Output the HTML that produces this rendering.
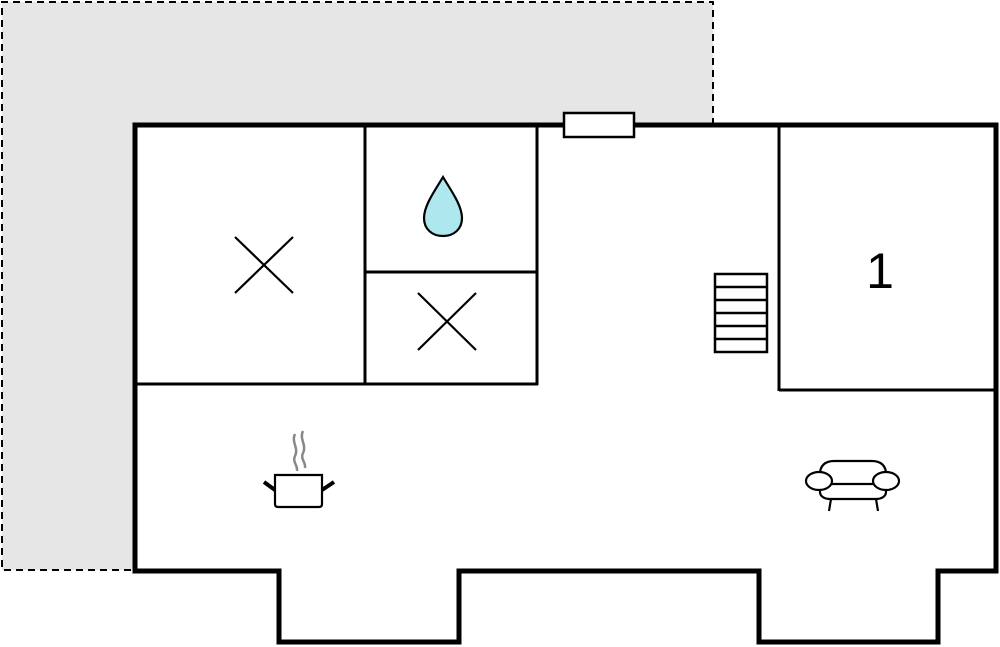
<!DOCTYPE html>
<html><head><meta charset="utf-8"><style>
html,body{margin:0;padding:0;background:#fff;}
svg{display:block;}
</style></head><body>
<svg width="1000" height="647" viewBox="0 0 1000 647" xmlns="http://www.w3.org/2000/svg">
<path d="M2,2 H713 V125 H135 V570 H2 Z" fill="#e6e6e6"/>
<path d="M713,125 V2 H2 V570 H135" fill="none" stroke="#000" stroke-width="2" stroke-dasharray="7,5"/>
<path d="M135,125 H996 V571 H938 V642 H759 V571 H459 V642 H279 V571 H135 Z" fill="#fff" stroke="#000" stroke-width="5"/>
<g stroke="#000" stroke-width="3" fill="none">
<line x1="365" y1="125" x2="365" y2="384"/>
<line x1="537" y1="125" x2="537" y2="385"/>
<line x1="135" y1="384" x2="538" y2="384"/>
<line x1="365" y1="272" x2="537" y2="272"/>
<line x1="779" y1="125" x2="779" y2="391"/>
<line x1="779" y1="390" x2="996" y2="390"/>
</g>
<rect x="564" y="113" width="70" height="24" fill="#fff" stroke="#000" stroke-width="2.5"/>
<g stroke="#000" stroke-width="2.5" fill="#fff">
<rect x="715" y="274" width="52" height="78"/>
<line x1="715" y1="287" x2="767" y2="287"/>
<line x1="715" y1="300" x2="767" y2="300"/>
<line x1="715" y1="313" x2="767" y2="313"/>
<line x1="715" y1="326" x2="767" y2="326"/>
<line x1="715" y1="339" x2="767" y2="339"/>
</g>
<g stroke="#000" stroke-width="2.2">
<line x1="235" y1="237" x2="293" y2="293"/>
<line x1="293" y1="237" x2="235" y2="293"/>
<line x1="418" y1="293" x2="476" y2="350"/>
<line x1="476" y1="293" x2="418" y2="350"/>
</g>
<path d="M443,177 C450,189 462,205 462,218 C462,229 454,236 443,236 C432,236 424,229 424,218 C424,205 436,189 443,177 Z" fill="#aee8ee" stroke="#000" stroke-width="2.2"/>
<text x="880" y="288" font-family="Liberation Sans, sans-serif" font-size="50" text-anchor="middle">1</text>
<g fill="none">
<path d="M295,434 C291,442 299,448 295,456 C292,462 298,465 297,471" stroke="#888" stroke-width="2.5"/>
<path d="M303,431 C299,439 307,445 303,453 C300,459 306,462 305,468" stroke="#888" stroke-width="2.5"/>
<path d="M275,475 H322 V504 C322,506 321,507 319,507 H278 C276,507 275,506 275,504 Z" stroke="#000" stroke-width="2.2" fill="#fff"/>
<line x1="264" y1="482" x2="275" y2="490" stroke="#000" stroke-width="4"/>
<line x1="322" y1="490" x2="334" y2="482" stroke="#000" stroke-width="4"/>
</g>
<g fill="#fff" stroke="#000" stroke-width="2.2">
<path d="M820,474 C820,465 826,461 834,461 H872 C880,461 886,465 886,474 V492 C886,496 882,499 876,499 H830 C824,499 820,496 820,492 Z"/>
<line x1="828" y1="484" x2="878" y2="484"/>
<ellipse cx="819" cy="481" rx="13" ry="9"/>
<ellipse cx="886" cy="481" rx="13" ry="9"/>
<line x1="831" y1="499" x2="829" y2="511"/>
<line x1="876" y1="499" x2="878" y2="511"/>
</g>
</svg>
</body></html>
